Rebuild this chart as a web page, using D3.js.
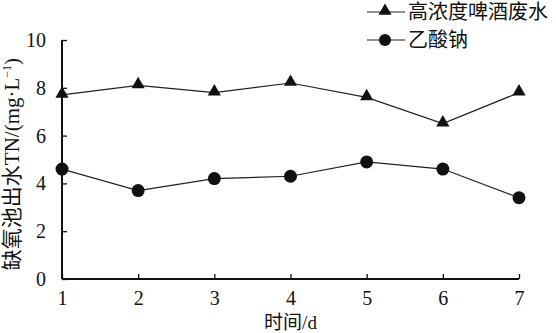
<!DOCTYPE html>
<html>
<head>
<meta charset="utf-8">
<script src="https://cdn.jsdelivr.net/npm/d3@7"></script>
<style>
  body { margin: 0; background: #fff; }
  svg text { font-family: "Liberation Serif", "Noto Sans CJK SC", serif; fill: #111; }
</style>
</head>
<body>
<div id="chart"></div>
<script>
// days and TN readings (mg/L)
const days = [1, 2, 3, 4, 5, 6, 7];
const beerWaste = [7.7, 8.1, 7.8, 8.2, 7.6, 6.5, 7.8];
const sodiumAcetate = [4.6, 3.7, 4.2, 4.3, 4.9, 4.6, 3.4];
const yTicks = [0, 2, 4, 6, 8, 10];
const seriesNames = ["高浓度啤酒废水", "乙酸钠"];

const W = 556, H = 333;
const m = { t: 40, r: 37, b: 54, l: 62 };
const svg = d3.select("#chart").append("svg").attr("width", W).attr("height", H);

const x = d3.scaleLinear().domain([1, 7]).range([m.l, W - m.r]);
const y = d3.scaleLinear().domain([0, 10]).range([H - m.b, m.t]);

const yAxis = svg.append("g").attr("transform", `translate(${m.l},0)`)
  .call(d3.axisRight(y).tickValues(yTicks).tickSize(5).tickFormat(d3.format("d")));
yAxis.select(".domain").attr("stroke", "#111").attr("stroke-width", 2).attr("d", `M0,${y(10)}V${y(0)}`);
yAxis.selectAll(".tick line").attr("stroke", "#111").attr("stroke-width", 1.3);
yAxis.selectAll(".tick text").attr("x", -16).attr("text-anchor", "end").style("font-size", "20px");

const xAxis = svg.append("g").attr("transform", `translate(0,${H - m.b})`)
  .call(d3.axisTop(x).tickValues(days).tickSize(5).tickFormat(d3.format("d")));
xAxis.select(".domain").attr("stroke", "#111").attr("stroke-width", 2).attr("d", `M${x(1)},0H${x(7)}`);
xAxis.selectAll(".tick line").attr("stroke", "#111").attr("stroke-width", 1.3);
xAxis.selectAll(".tick text").attr("y", 26).attr("dy", "0").style("font-size", "20px");

const line = d3.line().x((d, i) => x(days[i])).y(d => y(d));
const tri = d3.symbol().type(d3.symbolTriangle).size(75);

svg.append("path").datum(beerWaste).attr("d", line)
  .attr("fill", "none").attr("stroke", "#222").attr("stroke-width", 1.2);
svg.append("g").selectAll("path").data(beerWaste).join("path")
  .attr("transform", (d, i) => `translate(${x(days[i])},${y(d) - 1})`)
  .attr("d", tri).attr("fill", "#111");

svg.append("path").datum(sodiumAcetate).attr("d", line)
  .attr("fill", "none").attr("stroke", "#222").attr("stroke-width", 1.2);
svg.append("g").selectAll("circle").data(sodiumAcetate).join("circle")
  .attr("cx", (d, i) => x(days[i])).attr("cy", d => y(d)).attr("r", 6.5).attr("fill", "#111");

// legend
const lg = svg.append("g").attr("transform", "translate(367,12)");
seriesNames.forEach((name, i) => {
  const g = lg.append("g").attr("transform", `translate(0,${i * 28})`);
  g.append("line").attr("x1", 0).attr("x2", 38).attr("stroke", "#222").attr("stroke-width", 1.2);
  if (i === 0) g.append("path").attr("d", tri).attr("transform", "translate(18,-1)").attr("fill", "#111");
  else g.append("circle").attr("cx", 18).attr("r", 6).attr("fill", "#111");
  g.append("text").attr("x", 41).attr("dy", "0.36em").style("font-size", "20px").text(name);
});

// axis titles
svg.append("text").attr("x", x(4)).attr("y", 329)
  .attr("text-anchor", "middle").style("font-size", "19px").text("时间/d");
svg.append("text").attr("transform", `translate(19,164) rotate(-90)`)
  .attr("text-anchor", "middle").style("font-size", "21px")
  .html('缺氧池出水TN/(mg·L<tspan dy="-8" font-size="12px">−1</tspan><tspan dy="8">)</tspan>');
</script>
</body>
</html>
